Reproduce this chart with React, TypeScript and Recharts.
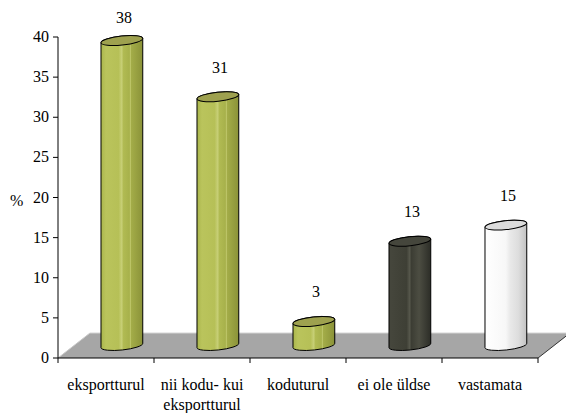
import { BarChart, Bar, XAxis, YAxis, ReferenceArea, LabelList } from "recharts";

const categories = [
  "eksportturul",
  "nii kodu- kui\neksportturul",
  "koduturul",
  "ei ole üldse",
  "vastamata"
];
const shares = [38, 31, 3, 13, 15];
const yTicks = [0, 5, 10, 15, 20, 25, 30, 35, 40];

const data = categories.map((name, i) => ({ name, value: shares[i] }));

// fake 3D depth of the floor, bars sit halfway back
const DX = 32;
const DY = 25;
const PLOT_LEFT = 58;
const PLOT_RIGHT = 538;
const PLOT_BOTTOM = 358;
const FONT = "Liberation Serif";

type Palette = { stops: [number, string][]; top: string };

const green: Palette = {
  stops: [
    [0, "#aab64c"],
    [0.12, "#bac45c"],
    [0.42, "#b6c057"],
    [0.5, "#c8d078"],
    [0.53, "#b1bb53"],
    [0.68, "#a7b14b"],
    [0.7, "#c2ca6e"],
    [0.73, "#a3ac48"],
    [1, "#8a9238"]
  ],
  top: "#9ea14f"
};
const dark: Palette = {
  stops: [
    [0, "#46473d"],
    [0.42, "#3e3f35"],
    [0.5, "#58594d"],
    [0.53, "#3b3c33"],
    [0.72, "#4c4d42"],
    [1, "#2c2d27"]
  ],
  top: "#45463c"
};
const white: Palette = {
  stops: [
    [0, "#ffffff"],
    [0.5, "#f7f7f7"],
    [0.6, "#e9e9e9"],
    [0.8, "#dddddd"],
    [1, "#c2c2c2"]
  ],
  top: "#dcdcdc"
};
const palettes = [green, green, green, dark, white];

function Cylinder(props: any) {
  const { x, y, width, height, index } = props;
  const p = palettes[index];
  const rx = width / 2;
  const ry = 4.5;
  const phi = -6;
  const cx = x + rx + DX / 2;
  const top = y - DY / 2;
  const bot = y + height - DY / 2;
  const c = Math.cos((phi * Math.PI) / 180);
  const s = Math.sin((phi * Math.PI) / 180);
  const lx = cx - rx * c;
  const ly = -rx * s;
  const rxx = cx + rx * c;
  const ryy = rx * s;
  const d = `M${lx},${top + ly} L${lx},${bot + ly} A${rx},${ry} ${phi} 0 0 ${rxx},${bot + ryy} L${rxx},${top + ryy} A${rx},${ry} ${phi} 0 0 ${lx},${top + ly} Z`;
  const id = `cyl-${index}`;
  return (
    <g>
      <defs>
        <linearGradient id={id} x1="0" y1="0" x2="1" y2="0">
          {p.stops.map(([o, col], i) => (
            <stop key={i} offset={o} stopColor={col} />
          ))}
        </linearGradient>
      </defs>
      <path d={d} fill={`url(#${id})`} stroke="#000" strokeWidth={1} />
      <ellipse
        cx={cx}
        cy={top}
        rx={rx}
        ry={ry}
        fill={p.top}
        stroke="#000"
        strokeWidth={1}
        transform={`rotate(${phi} ${cx} ${top})`}
      />
    </g>
  );
}

function Floor(props: any) {
  const { x, width, y, height } = props;
  const fy = y + height;
  const pts = `${x},${fy} ${x + width},${fy} ${x + width + DX},${fy - DY} ${x + DX},${fy - DY}`;
  return (
    <g>
      <polygon points={pts} fill="#a6a6a6" />
      <line x1={x + DX} y1={fy - DY} x2={x + width + DX} y2={fy - DY} stroke="#d4d4d4" />
      <line x1={x} y1={fy} x2={x + DX} y2={fy - DY} stroke="#c8c8c8" />
      <line x1={x + width} y1={fy} x2={x + width + DX} y2={fy - DY} stroke="#333" />
    </g>
  );
}

function ValueLabel(props: any) {
  const { x, y, width, value } = props;
  const cx = Number(x) + Number(width) / 2 + DX / 2 + 2;
  const by = Math.max(Number(y) - DY / 2 - 24, 23);
  return (
    <text className="serif-text" x={cx} y={by} textAnchor="middle" fontFamily={FONT} fontSize={16} fill="#000">
      {value}
    </text>
  );
}

function CategoryTick(props: any) {
  const { x, payload, index } = props;
  const half = (PLOT_RIGHT - PLOT_LEFT) / categories.length / 2;
  const lines = String(payload.value).split("\n");
  return (
    <g>
      <line x1={x - half} y1={PLOT_BOTTOM} x2={x - half} y2={PLOT_BOTTOM + 5} stroke="#000" />
      {index === categories.length - 1 && (
        <line x1={x + half} y1={PLOT_BOTTOM} x2={x + half} y2={PLOT_BOTTOM + 5} stroke="#000" />
      )}
      <text className="serif-text" x={x} y={PLOT_BOTTOM + 32} textAnchor="middle" fontFamily={FONT} fontSize={16} fill="#000">
        {lines.map((l, i) => (
          <tspan key={i} x={x} dy={i === 0 ? 0 : 20}>
            {l}
          </tspan>
        ))}
      </text>
    </g>
  );
}

function NumberTick(props: any) {
  const { x, y, payload } = props;
  return (
    <text className="serif-text" x={x} y={y} dy={5} textAnchor="end" fontFamily={FONT} fontSize={16} fill="#000">
      {payload.value}
    </text>
  );
}

function PercentLabel(props: any) {
  const { viewBox } = props;
  const cy = viewBox.y + viewBox.height / 2;
  return (
    <text className="serif-text" x={10} y={cy + 8} fontFamily={FONT} fontSize={16} fill="#000">
      %
    </text>
  );
}

export default function App() {
  return (
    <div style={{ position: "absolute", left: 0, top: 0, background: "#fff" }}>
      <style>{`.recharts-wrapper text, .recharts-wrapper tspan, .serif-text { font-family: "Liberation Serif", serif !important; }`}</style>
      <BarChart
        width={566}
        height={413}
        data={data}
        margin={{ top: 37, right: 28, bottom: 0, left: 0 }}
        barCategoryGap="28%"
      >
        <ReferenceArea y1={0} y2={40} shape={<Floor />} ifOverflow="visible" />
        <XAxis
          dataKey="name"
          interval={0}
          height={55}
          tickLine={false}
          axisLine={{ stroke: "#000" }}
          tick={<CategoryTick />}
        />
        <YAxis
          domain={[0, 40]}
          ticks={yTicks}
          width={58}
          tickSize={5}
          tickMargin={4}
          axisLine={{ stroke: "#000" }}
          tickLine={{ stroke: "#000" }}
          tick={<NumberTick />}
          label={<PercentLabel />}
        />
        <Bar dataKey="value" shape={<Cylinder />} isAnimationActive={false}>
          <LabelList dataKey="value" content={<ValueLabel />} />
        </Bar>
      </BarChart>
    </div>
  );
}
